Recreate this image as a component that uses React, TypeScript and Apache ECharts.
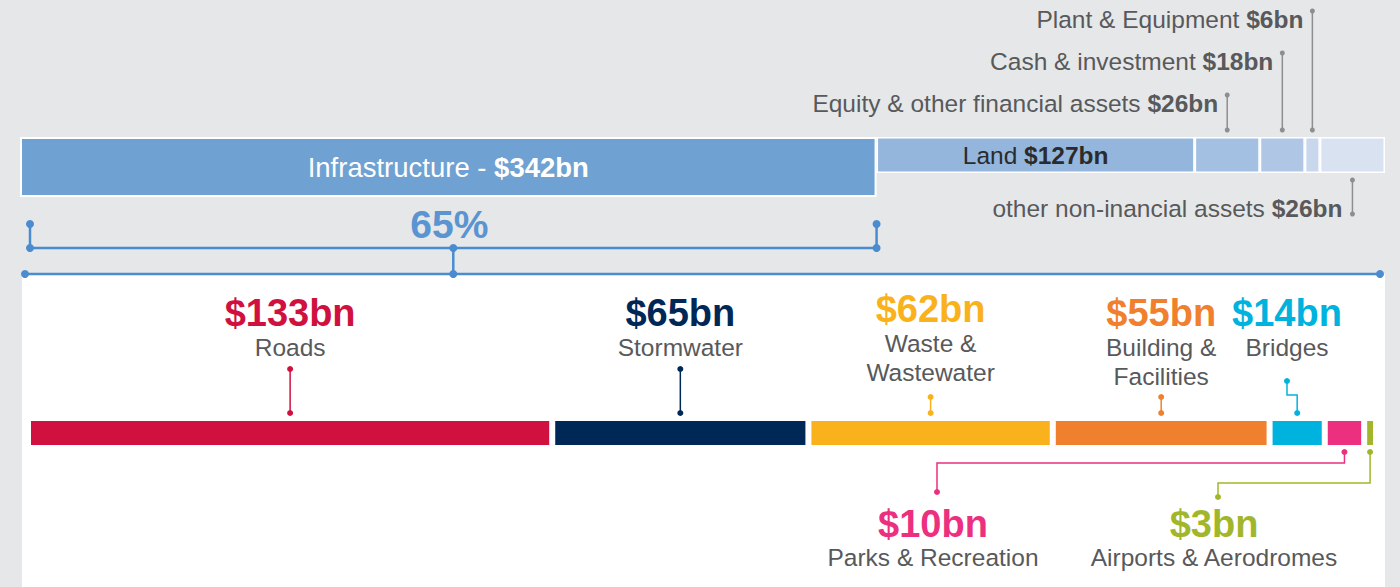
import React, { useEffect, useRef } from "react";
import * as echarts from "echarts";

// ---- data ----
const assetNames = [
  "Infrastructure",
  "Land",
  "Equity & other financial assets",
  "Cash & investment",
  "Plant & Equipment",
  "other non-inancial assets",
];
const assetValues = [342, 127, 26, 18, 6, 26];
const assetColors = ["#6fa1d2", "#94b6dd", "#a3bfe2", "#afc6e5", "#c9d7ec", "#d9e2f1"];
const infraShareLabel = "65%";

const infraNames = [
  "Roads",
  "Stormwater",
  "Waste &\nWastewater",
  "Building &\nFacilities",
  "Bridges",
  "Parks & Recreation",
  "Airports & Aerodromes",
];
const infraValues = [133, 65, 62, 55, 14, 10, 3];
const infraColors = ["#d0103e", "#002856", "#f9b21b", "#f0802e", "#00b3de", "#ec2f7e", "#a2b62b"];

const FONT = "'Liberation Sans', Arial, Helvetica, sans-serif";
const GRAY = "#58595b";
const BLUE_LINE = "#4b8bcf";

const money = (v: number) => `$${v}bn`;
const sum = (a: number[]) => a.reduce((s, v) => s + v, 0);

export default function App() {
  const ref = useRef<HTMLDivElement>(null);
  useEffect(() => {
    if (!ref.current) return;
    const chart = echarts.init(ref.current, undefined, { renderer: "svg" });
    const assetTotal = sum(assetValues);
    const infraTotal = sum(infraValues);

    const series: any[] = [];
    // Row 0: infrastructure
    series.push({
      type: "bar",
      name: assetNames[0],
      xAxisIndex: 0,
      yAxisIndex: 0,
      stack: "a",
      barWidth: 60,
      data: [assetValues[0]],
      itemStyle: { color: assetColors[0], borderColor: "#fff", borderWidth: 2 },
      label: {
        show: true,
        position: "inside",
        formatter: `{n|${assetNames[0]} - }{b|${money(assetValues[0])}}`,
        rich: {
          n: { color: "#fff", fontSize: 27.5, fontFamily: FONT },
          b: { color: "#fff", fontSize: 27.5, fontFamily: FONT, fontWeight: "bold" },
        },
      },
      silent: true,
    });
    // Row 1: other assets (offset by infrastructure)
    series.push({
      type: "bar",
      name: "offset",
      xAxisIndex: 1,
      yAxisIndex: 1,
      stack: "b",
      barWidth: 36,
      data: [assetValues[0]],
      itemStyle: { color: "transparent" },
      silent: true,
    });
    for (let i = 1; i < assetValues.length; i++) {
      series.push({
        type: "bar",
        name: assetNames[i],
        xAxisIndex: 1,
        yAxisIndex: 1,
        stack: "b",
        barWidth: 36,
        data: [assetValues[i]],
        itemStyle: { color: assetColors[i], borderColor: "#fff", borderWidth: 1.5 },
        label:
          i === 1
            ? {
                show: true,
                position: "inside",
                formatter: `{n|${assetNames[i]} }{b|${money(assetValues[i])}}`,
                rich: {
                  n: { color: "#2b2b2b", fontSize: 24.5, fontFamily: FONT },
                  b: { color: "#2b2b2b", fontSize: 24.5, fontFamily: FONT, fontWeight: "bold" },
                },
              }
            : { show: false },
        silent: true,
      });
    }
    // Row 2: infrastructure breakdown
    for (let i = 0; i < infraValues.length; i++) {
      series.push({
        type: "bar",
        name: infraNames[i],
        xAxisIndex: 2,
        yAxisIndex: 2,
        stack: "c",
        barWidth: 30,
        data: [infraValues[i]],
        itemStyle: { color: infraColors[i], borderColor: "#fff", borderWidth: 3 },
        silent: true,
      });
    }

    const hiddenX = (max: number, gridIndex: number) => ({
      type: "value",
      gridIndex,
      min: 0,
      max,
      show: false,
    });
    const hiddenY = (gridIndex: number) => ({
      type: "category",
      gridIndex,
      data: ["all"],
      show: false,
    });

    chart.setOption({
      animation: false,
      backgroundColor: "#e6e7e9",
      grid: [
        { left: 20, right: 15, top: 137, height: 60 },
        { left: 20, right: 15, top: 137, height: 36 },
        { left: 28, right: 24, top: 418, height: 30 },
      ],
      xAxis: [hiddenX(assetTotal, 0), hiddenX(assetTotal, 1), hiddenX(infraTotal, 2)],
      yAxis: [hiddenY(0), hiddenY(1), hiddenY(2)],
      series,
    });

    // ---- overlay derived from the axes ----
    const px = (grid: number, v: number) =>
      (chart.convertToPixel({ gridIndex: grid } as any, [v, 0]) as number[])[0];

    const g: any[] = [];
    const dot = (x: number, y: number, r: number, c: string) =>
      g.push({ type: "circle", z: 20, shape: { cx: x, cy: y, r }, style: { fill: c } });
    const seg = (pts: number[][], c: string, w: number) =>
      g.push({
        type: "polyline",
        z: 19,
        shape: { points: pts },
        style: { stroke: c, lineWidth: w, fill: null },
      });
    const text = (
      x: number,
      y: number,
      t: string,
      color: string,
      size: number,
      weight: string,
      align: string,
      lh?: number
    ) =>
      g.push({
        type: "text",
        z: 20,
        x,
        y,
        style: {
          text: t,
          fill: color,
          fontSize: size,
          fontWeight: weight,
          fontFamily: FONT,
          align,
          textAlign: align,
          verticalAlign: "middle",
          textVerticalAlign: "middle",
          lineHeight: lh || size * 1.2,
        },
      });
    const richText = (x: number, y: number, name: string, val: string, size: number, align: string) =>
      g.push({
        type: "text",
        z: 20,
        x,
        y,
        style: {
          text: `{n|${name} }{b|${val}}`,
          align,
          textAlign: align,
          verticalAlign: "middle",
          textVerticalAlign: "middle",
          rich: {
            n: { fill: GRAY, color: GRAY, fontSize: size, fontFamily: FONT },
            b: { fill: GRAY, color: GRAY, fontSize: size, fontFamily: FONT, fontWeight: "bold" },
          },
        },
      });

    // white panel
    const panelL = px(0, 0) + 2;
    const panelR = px(0, assetTotal);
    g.push({
      type: "rect",
      z: -5,
      shape: { x: panelL, y: 274, width: panelR - panelL, height: 330 },
      style: { fill: "#ffffff" },
    });

    // 65% bracket
    const infraEnd = px(0, assetValues[0]);
    const brL = panelL + 8;
    const brMid = (brL + infraEnd) / 2;
    seg([[brL, 224], [brL, 248], [infraEnd, 248], [infraEnd, 224]], BLUE_LINE, 2.5);
    seg([[panelL + 3, 274], [panelR - 5, 274]], BLUE_LINE, 2.5);
    seg([[brMid, 248], [brMid, 274]], BLUE_LINE, 2.5);
    [[brL, 224], [brL, 248], [infraEnd, 224], [infraEnd, 248], [brMid, 248], [brMid, 274], [panelL + 3, 274], [panelR - 5, 274]].forEach(
      ([x, y]) => dot(x, y, 4, BLUE_LINE)
    );
    text(brMid - 4, 224, infraShareLabel, "#5a94d1", 39, "bold", "center");

    // top-row callouts
    const LEADER = "#8d8e90";
    const assetCenters: number[] = [];
    let acc = 0;
    for (let i = 0; i < assetValues.length; i++) {
      assetCenters.push(px(1, acc + assetValues[i] / 2));
      acc += assetValues[i];
    }
    const topLabelY = [0, 0, 103, 61, 19];
    for (let i = 2; i <= 4; i++) {
      const x = assetCenters[i];
      const y = topLabelY[i];
      seg([[x, y - 8], [x, 130]], LEADER, 1.5);
      dot(x, y - 8, 2.5, LEADER);
      dot(x, 130, 2.5, LEADER);
      richText(x - 9, y, assetNames[i], money(assetValues[i]), 24.5, "right");
    }
    {
      const x = assetCenters[5];
      seg([[x, 180], [x, 214]], LEADER, 1.5);
      dot(x, 180, 2.5, LEADER);
      dot(x, 214, 2.5, LEADER);
      richText(x - 10, 208, assetNames[5], money(assetValues[5]), 24.5, "right");
    }

    // bottom-row callouts
    const centers: number[] = [];
    acc = 0;
    for (let i = 0; i < infraValues.length; i++) {
      centers.push(px(2, acc + infraValues[i] / 2));
      acc += infraValues[i];
    }
    const AMT = 38;
    const NAME = 24.5;
    // above, straight leaders
    const aboveAmtY = [313, 313, 309, 313];
    const aboveLeadTop = [369, 369, 397, 397];
    for (let i = 0; i < 4; i++) {
      const x = centers[i];
      text(x, aboveAmtY[i], money(infraValues[i]), infraColors[i], AMT, "bold", "center");
      text(x, aboveAmtY[i] + 34 + (infraNames[i].includes("\n") ? 14.5 : 0), infraNames[i], GRAY, NAME, "normal", "center", 29);
      seg([[x, aboveLeadTop[i]], [x, 413]], infraColors[i], 1.5);
      dot(x, aboveLeadTop[i], 3, infraColors[i]);
      dot(x, 413, 3, infraColors[i]);
    }
    // Bridges (elbow)
    {
      const i = 4;
      const lx = 1287;
      const x = centers[i];
      text(lx, 313, money(infraValues[i]), infraColors[i], AMT, "bold", "center");
      text(lx, 347, infraNames[i], GRAY, NAME, "normal", "center");
      seg([[x, 413], [x, 395], [lx, 395], [lx, 381]], infraColors[i], 1.5);
      dot(x, 413, 3, infraColors[i]);
      dot(lx, 381, 3, infraColors[i]);
    }
    // Parks & Airports below
    const belowLabelX = [933, 1214];
    const belowElbowY = [463, 483];
    const belowEndY = [492, 497];
    for (let k = 0; k < 2; k++) {
      const i = 5 + k;
      const x = centers[i];
      const lx = belowLabelX[k];
      seg([[x, 452], [x, belowElbowY[k]], [lx + 4, belowElbowY[k]], [lx + 4, belowEndY[k]]], infraColors[i], 1.5);
      dot(x, 452, 3, infraColors[i]);
      dot(lx + 4, belowEndY[k], 3, infraColors[i]);
      text(lx, 524, money(infraValues[i]), infraColors[i], AMT, "bold", "center");
      text(lx, 557, infraNames[i], GRAY, NAME, "normal", "center");
    }

    chart.setOption({ graphic: { elements: g } });
    return () => chart.dispose();
  }, []);

  return (
    <div
      ref={ref}
      style={{ position: "fixed", left: 0, top: 0, width: 1400, height: 587 }}
    />
  );
}
